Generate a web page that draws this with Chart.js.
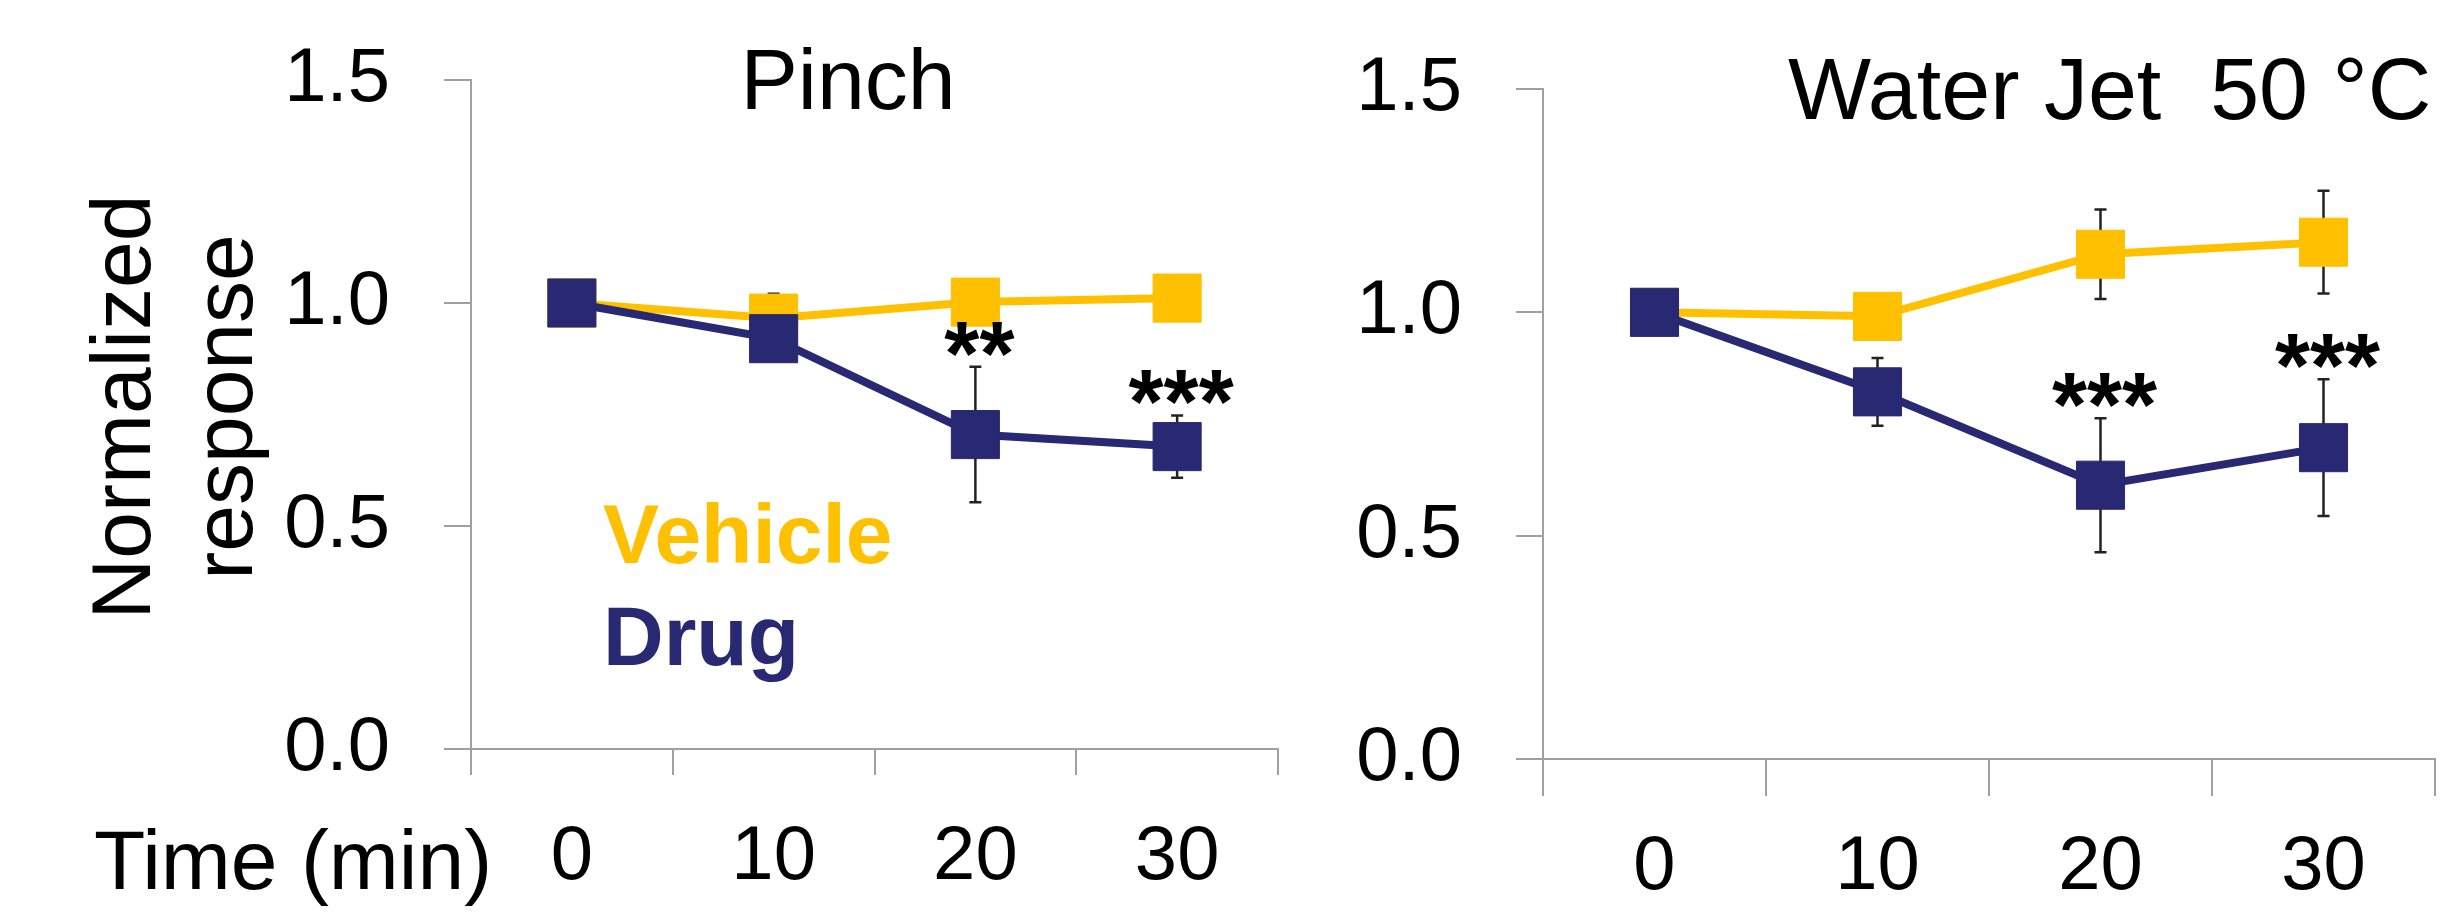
<!DOCTYPE html>
<html lang="en">
<head>
  <meta charset="UTF-8" />
  <title>Pinch / Water Jet</title>
  <script src="https://cdn.jsdelivr.net/npm/chart.js"></script>
  <style>
    body { margin: 0; width: 2445px; height: 915px; overflow: hidden; background: #fff; font-family: "Liberation Sans", Arial, sans-serif; position: relative; }
    canvas { position: absolute; top: 0; }
    .txt { position: absolute; line-height: 1; white-space: pre; color: #000; }
    .ytitle { position: absolute; left: 172px; top: 407px; width: 700px; text-align: center; font-size: 84px; line-height: 102px; transform: translate(-50%, -50%) rotate(-90deg); }
  </style>
</head>
<body>
  <canvas id="pinchChart" width="1300" height="915" style="left:0"></canvas>
  <canvas id="jetChart" width="1145" height="915" style="left:1300px"></canvas>

  <div class="txt" style="left:848px; top:36px; font-size:86px; transform:translateX(-50%)">Pinch</div>
  <div class="txt" style="left:1788px; top:45px; font-size:88px">Water Jet  50 °C</div>
  <div class="ytitle">Normalized<br>response</div>
  <div class="txt" style="left:603px; top:492px; font-size:84px; font-weight:bold; color:#FFC000">Vehicle</div>
  <div class="txt" style="left:603px; top:594px; font-size:84px; font-weight:bold; color:#282873">Drug</div>
  <div class="txt" style="left:94px; top:818px; font-size:84px">Time (min)</div>

  <script>
    const timePoints = ["0", "10", "20", "30"];
    const yTicks = [0, 0.5, 1.0, 1.5];

    const pinchVehicle = [1.0, 0.966, 1.002, 1.011];
    const pinchVehicleErr = [0, 0.055, 0, 0];
    const pinchDrug = [1.0, 0.92, 0.705, 0.678];
    const pinchDrugErr = [0, 0, 0.152, 0.07];
    const pinchStars = ["", "", "**", "***"];

    const jetVehicle = [1.0, 0.991, 1.13, 1.157];
    const jetVehicleErr = [0, 0, 0.1, 0.115];
    const jetDrug = [1.0, 0.822, 0.613, 0.697];
    const jetDrugErr = [0, 0.076, 0.15, 0.153];
    const jetStars = ["", "", "***", "***"];

    const YELLOW = "#FFC000";
    const NAVY = "#282873";
    const AXIS = "#A0A0A0";
    const FONT = '"Liberation Sans", Arial, sans-serif';

    // error bars go under the markers
    const errorBars = {
      id: "errorBars",
      beforeDatasetsDraw(chart) {
        const ctx = chart.ctx, y = chart.scales.y;
        ctx.save();
        ctx.strokeStyle = "#222";
        ctx.lineWidth = 2.5;
        chart.data.datasets.forEach((ds, i) => {
          const meta = chart.getDatasetMeta(i);
          ds.errors.forEach((e, j) => {
            if (!e) return;
            const x = meta.data[j].x;
            const top = y.getPixelForValue(ds.data[j] + e);
            const bot = y.getPixelForValue(ds.data[j] - e);
            ctx.beginPath();
            ctx.moveTo(x, top); ctx.lineTo(x, bot);
            ctx.moveTo(x - 6, top); ctx.lineTo(x + 6, top);
            ctx.moveTo(x - 6, bot); ctx.lineTo(x + 6, bot);
            ctx.stroke();
          });
        });
        ctx.restore();
      }
    };

    // significance stars above the drug error bars
    const stars = {
      id: "stars",
      afterDatasetsDraw(chart, args, opts) {
        const ctx = chart.ctx, y = chart.scales.y;
        const ds = chart.data.datasets[opts.dataset];
        const meta = chart.getDatasetMeta(opts.dataset);
        ctx.save();
        ctx.fillStyle = "#000";
        ctx.font = "bold 90px " + FONT;
        ctx.textAlign = "center";
        ctx.textBaseline = "alphabetic";
        opts.labels.forEach((s, j) => {
          if (!s) return;
          const top = y.getPixelForValue(ds.data[j] + ds.errors[j]);
          ctx.fillText(s, meta.data[j].x + 4, top + 18);
        });
        ctx.restore();
      }
    };

    function makeChart(id, vehicle, vehicleErr, drug, drugErr, starLabels, box) {
      return new Chart(document.getElementById(id), {
        type: "line",
        data: {
          labels: timePoints,
          datasets: [
            { label: "Drug", data: drug, errors: drugErr, order: 0,
              borderColor: NAVY, backgroundColor: NAVY, borderWidth: 8,
              pointStyle: "rect", pointRadius: 34, pointBorderWidth: 1, pointBorderColor: NAVY, pointBackgroundColor: NAVY },
            { label: "Vehicle", data: vehicle, errors: vehicleErr, order: 1,
              borderColor: YELLOW, backgroundColor: YELLOW, borderWidth: 8,
              pointStyle: "rect", pointRadius: 34, pointBorderWidth: 1, pointBorderColor: YELLOW, pointBackgroundColor: YELLOW }
          ]
        },
        options: {
          responsive: false,
          animation: false,
          devicePixelRatio: 1,
          layout: { autoPadding: false, padding: { top: box.top, right: box.right, bottom: 0, left: 0 } },
          plugins: {
            legend: { display: false },
            tooltip: { enabled: false },
            stars: { labels: starLabels, dataset: 0 }
          },
          scales: {
            x: {
              offset: true,
              grid: { offset: true, drawOnChartArea: false, drawTicks: true, tickLength: box.xTick, color: AXIS, lineWidth: 2 },
              border: { color: AXIS, width: 2 },
              ticks: { color: "#000", font: { family: FONT, size: 76 }, padding: box.xPad, maxRotation: 0 },
              afterFit: s => { s.height = box.xHeight; s.paddingLeft = 0; s.paddingRight = 0; }
            },
            y: {
              min: 0, max: 1.5,
              afterBuildTicks: s => { s.ticks = yTicks.map(v => ({ value: v })); },
              grid: { drawOnChartArea: false, drawTicks: true, tickLength: 27, color: AXIS, lineWidth: 2 },
              border: { color: AXIS, width: 2 },
              ticks: { color: "#000", font: { family: FONT, size: 76 }, padding: 54, callback: v => Number(v).toFixed(1) },
              afterFit: s => { s.width = box.yWidth; s.paddingTop = 0; s.paddingBottom = 0; }
            }
          }
        },
        plugins: [errorBars, stars]
      });
    }

    makeChart("pinchChart", pinchVehicle, pinchVehicleErr, pinchDrug, pinchDrugErr, pinchStars,
      { top: 80, right: 22, yWidth: 471, xHeight: 166, xTick: 26, xPad: 37 });
    makeChart("jetChart", jetVehicle, jetVehicleErr, jetDrug, jetDrugErr, jetStars,
      { top: 89, right: 10, yWidth: 243, xHeight: 156, xTick: 37, xPad: 26 });
  </script>
</body>
</html>
